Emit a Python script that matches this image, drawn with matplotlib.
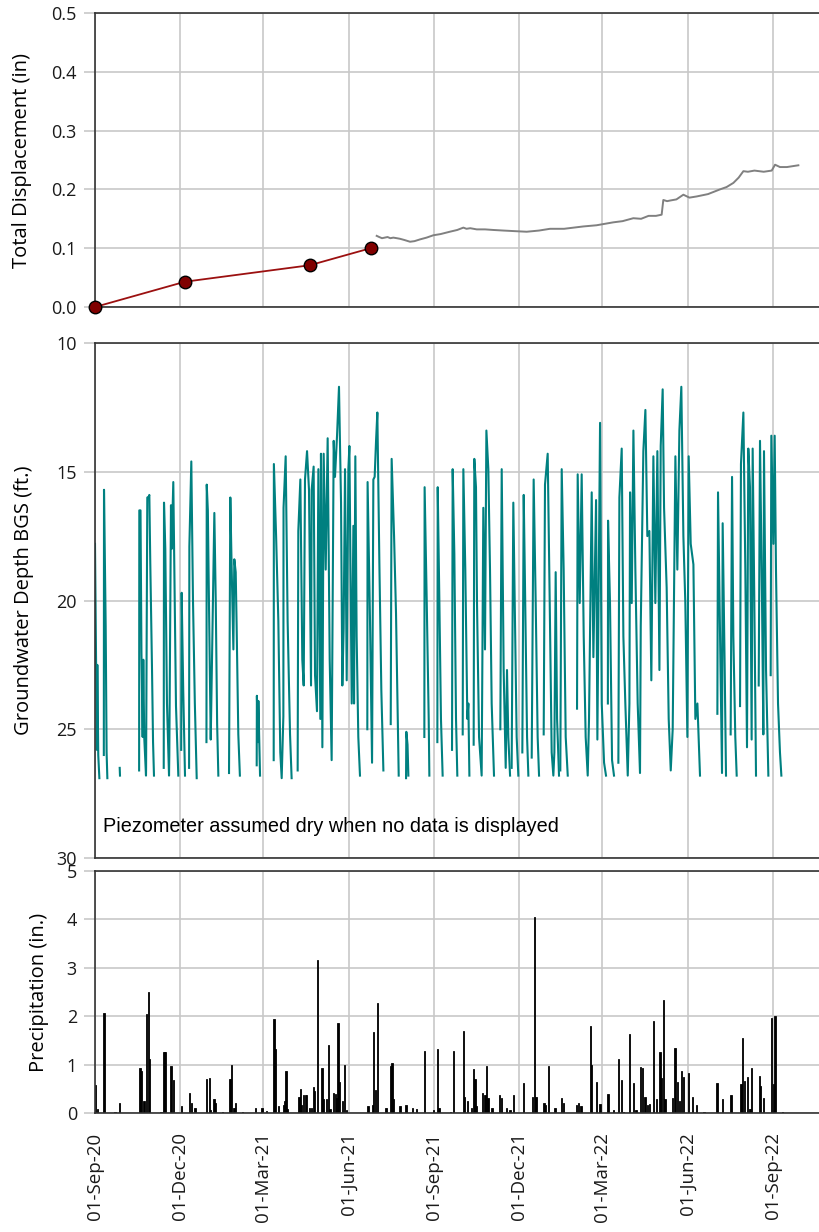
import numpy as np
import pandas as pd
import matplotlib
matplotlib.use("Agg")
import matplotlib.pyplot as plt
import matplotlib.dates as mdates

plt.rcParams['font.family'] = ['Open Sans', 'DejaVu Sans']

# all x values are days since 01-Sep-2020
START = pd.Timestamp('2020-09-01')
END_DAY = 780.6

# survey readings (inclinometer) and continuous record
survey_day = [0, 96.9, 231.2, 296.8]
survey_disp = [0.0, 0.043, 0.071, 0.100]

auto_day = [303.3, 306.0, 309.0, 312.0, 315.0, 318.0, 321.2, 325.0, 328.4, 333.0, 339.2, 344.0,
            350.0, 357.0, 364.3, 372.0, 382.0, 390.0, 396.6, 400.0, 404.0, 411.0, 420.0,
            428.9, 440.0, 452.0, 464.8, 478.0, 489.9, 505.0, 525.8, 540.0, 558.1, 568.0,
            579.6, 588.0, 596.0, 604.0, 610.1, 611.9, 616.0, 619.0, 626.0, 633.5, 640.0,
            647.8, 660.0, 672.9, 680.0, 687.3, 693.0, 698.1, 703.0, 710.0, 720.0, 728.6,
            732.2, 737.5, 745.0, 757.3]
auto_disp = [0.121, 0.119, 0.117, 0.118, 0.119, 0.117, 0.118, 0.117, 0.116, 0.114, 0.111,
             0.112, 0.115, 0.118, 0.122, 0.124, 0.128, 0.131, 0.135, 0.133, 0.134, 0.132,
             0.132, 0.131, 0.130, 0.129, 0.128, 0.130, 0.133, 0.133, 0.137, 0.139, 0.144,
             0.146, 0.151, 0.150, 0.155, 0.155, 0.157, 0.182, 0.180, 0.181, 0.183, 0.191,
             0.186, 0.188, 0.192, 0.200, 0.204, 0.211, 0.220, 0.231, 0.230, 0.232, 0.230,
             0.232, 0.242, 0.238, 0.238, 0.241]

# groundwater depth, one list per period with data (piezometer dry in between)
gw_segments = [
    [(0, 17.8), (1.5, 23.7), (2.0, 25.8), (2.5, 22.5), (3.5, 26.0), (4.7, 26.9)],
    [(9.5, 26.0), (9.7, 15.7), (11.5, 21.0), (12.5, 25.9), (13.3, 26.9)],
    [(26.6, 26.5), (26.9, 26.8)],
    [(47.5, 26.6), (47.7, 16.5), (49.0, 16.5), (50, 22.0), (51.3, 25.3), (52, 22.3), (53, 25.3),
     (54.9, 26.8), (55, 26.5), (56.3, 16.0), (57.5, 16.0), (58.5, 15.9), (59.5, 18.5),
     (61.4, 22.7), (62.5, 25.5), (63.5, 26.8)],
    [(74.0, 26.5), (74.3, 16.2), (75.7, 18.0), (77.5, 24.0), (79.7, 26.8), (80, 26.0),
     (81.8, 16.3), (82.5, 18.0), (84.3, 15.4), (85.5, 19.0), (87.2, 24.1), (88.5, 25.5),
     (89.7, 26.8)],
    [(92.8, 25.8), (93.3, 19.7), (95, 23.5), (96.9, 26.8)],
    [(101.3, 26.5), (101.6, 17.9), (103.7, 14.6), (105.5, 20.0), (107.5, 24.0), (109.5, 26.9)],
    [(120, 25.5), (120.3, 15.5), (121.5, 16.5), (122.5, 19.5), (124.6, 25.4), (125, 24.5),
     (128.5, 16.6), (130, 20.0), (131.5, 24.8), (132.8, 26.8)],
    [(144.3, 26.7), (145.7, 16.0), (147, 18.5), (149, 21.9), (150, 18.4), (151.5, 18.9),
     (152.5, 21.0), (154.3, 25.2), (156, 26.8)],
    [(174.1, 26.4), (174.3, 23.7), (175.5, 25.5), (175.9, 23.9), (177.7, 26.8)],
    [(192.4, 26.2), (192.6, 14.7), (195, 17.5), (197.4, 20.8), (199.5, 25.9), (201, 26.9),
     (202.8, 24.5), (203, 16.4), (205.3, 14.4), (207.4, 20.8), (210, 25.2), (211.7, 26.9)],
    [(218.2, 26.6), (218.9, 17.3), (221.1, 15.3), (223.2, 22.3), (224.7, 23.3), (226.1, 15.3),
     (228.3, 14.2), (230.4, 15.7), (232.6, 23.3), (233.3, 15.7), (235.4, 14.8), (236.9, 22.9),
     (239, 24.3), (240.5, 14.9), (242.6, 24.6), (243.3, 14.3), (244.8, 25.7), (246.2, 14.3),
     (248.4, 18.8), (250.5, 13.7), (252.7, 22.3), (254.8, 26.2), (257, 13.8), (258.4, 15.2),
     (260.6, 13.6), (262.7, 11.7), (264.9, 16.2), (266.3, 23.3), (267.7, 21.1), (269.2, 14.9),
     (271, 23.1), (272.8, 14.9), (273.9, 14.0), (276.4, 24.0), (278.2, 17.1), (278.9, 24.0),
     (280.3, 14.4), (281.7, 21.4), (283.5, 25.3), (285.3, 26.8)],
    [(293.2, 25.0), (293.5, 15.4), (296.1, 20.8), (298.3, 26.3), (299.7, 15.3), (301.1, 15.2),
     (302.6, 13.8), (304, 12.7), (306.2, 18.6), (308.3, 23.5), (310.5, 26.6)],
    [(318.4, 24.8), (319.4, 14.5), (322, 17.5), (324.1, 20.5), (327, 26.8)],
    [(334.9, 26.9), (335.2, 25.1), (336.5, 25.6), (337.4, 26.8)],
    [(354.6, 25.3), (354.9, 15.6), (357.1, 19.9), (359.3, 24.6), (360, 26.8)],
    [(368.6, 25.5), (369, 15.6), (370.8, 20.1), (372.5, 24.6), (374.3, 26.8)],
    [(384.4, 25.8), (385.1, 14.9), (386.9, 18.2), (388.7, 24.6), (390.1, 26.8)],
    [(395.9, 25.2), (396.6, 14.9), (398.7, 18.8), (400.9, 24.6), (402, 24.0), (403.1, 26.8)],
    [(407.7, 25.6), (408.4, 14.5), (410.2, 15.6), (411.3, 20.1), (413.5, 25.3), (416.3, 26.8),
     (418.1, 16.4), (419.9, 21.9), (421.4, 13.4), (423.5, 14.9), (425.3, 18.8), (427.1, 24.0),
     (429.6, 26.8)],
    [(436.4, 25.0), (437.9, 14.9), (440, 22.7), (442.2, 26.5), (443.6, 22.7), (445, 25.3),
     (446.9, 26.8)],
    [(448.6, 26.5), (450.4, 16.2), (452.2, 20.8), (454, 25.3), (455.8, 26.8)],
    [(460.1, 25.9), (461.6, 15.9), (463, 19.5), (465.2, 25.3), (466.6, 26.8)],
    [(470.2, 26.1), (472.3, 15.3), (474.5, 20.1), (476.6, 25.3), (478.1, 26.8)],
    [(483.1, 25.2), (484.5, 15.5), (487.4, 14.3), (489.6, 20.1), (491.7, 25.9), (493.5, 26.8),
     (494.6, 25.9), (496, 18.9), (497.5, 24.6), (499.6, 26.8)],
    [(501, 26.6), (502.5, 14.9), (504.6, 18.8), (506.8, 25.3), (509, 26.8)],
    [(519, 24.2), (519.7, 15.1), (521.9, 20.1), (524, 15.1), (526.2, 21.4), (528.3, 25.3),
     (530.5, 26.8), (531.9, 24.6), (534.8, 15.8), (536.6, 22.2), (539.5, 16.1), (540.9, 25.4),
     (543.8, 13.1), (545.6, 24.0), (548.1, 26.3), (550.2, 26.8)],
    [(552.2, 24.0), (552.4, 16.9), (554.5, 20.1), (556.7, 26.2), (558.8, 26.8)],
    [(563.5, 26.3), (564.6, 16.0), (567.1, 14.1), (568.9, 21.4), (571, 24.0), (573.6, 26.8),
     (575.4, 24.0), (576.1, 15.8), (577.9, 20.1), (579.7, 13.4), (581.8, 18.8), (584.3, 24.0),
     (586.8, 26.7), (587.6, 21.0), (590.4, 14.2), (592.6, 12.6), (594.7, 17.5), (596.9, 17.3),
     (599, 23.1), (601.2, 14.4), (603.3, 20.1), (605.5, 14.2), (607.7, 22.7), (609.1, 14.0),
     (611.2, 11.8), (612.7, 16.4), (615.5, 19.5), (617.7, 24.6), (619.9, 26.6), (622, 25.0),
     (624.9, 14.4), (627, 18.8), (629.2, 13.4), (631.3, 11.7), (633.5, 17.5), (635.6, 20.1),
     (637.8, 25.3), (639.2, 14.4), (641.4, 17.8), (644.3, 18.6), (646.4, 24.6), (648.6, 24.0),
     (651.4, 26.8)],
    [(670.1, 24.4), (670.8, 15.8), (673, 21.4), (675.1, 26.7), (675.8, 17.0), (678, 22.7),
     (679.4, 26.8)],
    [(684.4, 25.2), (685.9, 15.2), (687.3, 21.4), (689.4, 25.3), (690.9, 26.8)],
    [(694.5, 24.1), (695.5, 14.7), (698.1, 12.7), (700.2, 18.8), (702, 25.7), (703.4, 14.1),
     (705.2, 15.6), (707, 25.4), (708.1, 14.1), (709.9, 20.1), (711.7, 26.8)],
    [(714.6, 23.3), (716, 13.8), (718.2, 20.1), (719.6, 25.2), (720.3, 14.2), (722.5, 22.7),
     (725, 26.8)],
    [(727.5, 22.9), (728.2, 13.6), (730.4, 17.8), (731.8, 13.6), (733.2, 18.8), (735.4, 24.0),
     (737.5, 25.9), (739, 26.8)],
]

# daily precipitation (in.)
precip_day = [0.7, 2.9, 9.7, 21.5, 26.2, 48.5, 49.9, 52.8, 55.6, 57.4, 58.9, 71, 74.3, 75.4,
              81.8, 84.3, 93.3, 101.6, 104.1, 107.7, 120.2, 123.1, 124.5, 128.1, 129.2, 137.5,
              145.4, 146.8, 149.7, 151.5, 159, 172.6, 179.8, 184.8, 192.7, 194.2, 197.8, 202.8,
              204.6, 205.7, 207.4, 219.6, 221.4, 222.5, 224.3, 226.5, 227.9, 230.8, 233.3,
              235.1, 236.5, 239.7, 244.4, 245.8, 249.4, 251.2, 253, 256.6, 258.8, 260.2, 261.6,
              263.1, 266.7, 268.8, 271, 293.9, 299, 300, 301.8, 304, 313.3, 318.3, 319.8, 321.2,
              328.4, 334.9, 341.7, 346.3, 354.6, 364.3, 369, 370.4, 383, 385.8, 396.6, 397.7,
              400.9, 405.6, 407.7, 409.2, 410.6, 417.4, 419.9, 421.7, 423.2, 427.5, 435.4, 437.2,
              443.3, 446.8, 450.8, 461.2, 471.2, 473.4, 474.8, 483.4, 485.2, 488.1, 495.3,
              501.8, 504.3, 518.6, 520.4, 523.3, 533.7, 534.8, 540.2, 543.7, 552.4, 558.1,
              563.5, 567.1, 568.9, 575.7, 580, 582.5, 587.5, 589.7, 592.2, 594.7, 596.9, 601.5,
              604.8, 608.3, 610.1, 611.9, 613.7, 622, 624.5, 627, 629.2, 631.7, 633.5, 638.8,
              643.5, 647.8, 655.7, 669.7, 675.8, 684.8, 695.6, 697.4, 699.2, 702.7, 705.2, 707,
              715.3, 716.7, 720, 728.6, 730.4, 732.2, 740.4]
precip_in = [0.57, 0.09, 2.07, 0.02, 0.21, 0.92, 0.87, 0.24, 2.05, 2.5, 1.12, 0.02, 1.26, 1.26,
             0.97, 0.69, 0.14, 0.41, 0.21, 0.11, 0.71, 0.72, 0.07, 0.28, 0.21, 0.02,
             0.70, 1.0, 0.11, 0.21, 0.03, 0.11, 0.11, 0.04, 1.95, 1.33, 0.14, 0.16,
             0.24, 0.86, 0.09, 0.33, 0.5, 0.16, 0.38, 0.38, 0.38, 0.10, 0.10,
             0.54, 0.45, 3.17, 0.94, 0.28, 0.28, 1.41, 0.09, 0.41, 0.40, 0.30, 1.85,
             0.64, 0.25, 1.0, 0.06, 0.14, 0.17, 1.67, 0.47, 2.27, 0.1, 0.97, 1.04, 0.28,
             0.14, 0.17, 0.1, 0.09, 1.29, 0.06, 1.32, 0.1, 0.03, 1.28, 1.69, 0.34,
             0.24, 0.11, 0.9, 0.71, 0.14, 0.41, 0.37, 0.97, 0.32, 0.1, 0.38, 0.31,
             0.11, 0.06, 0.37, 0.63, 0.34, 4.04, 0.34, 0.21, 0.17, 0.97, 0.1,
             0.31, 0.21, 0.16, 0.21, 0.14, 1.79, 1.0, 0.65, 0.19, 0.4, 0.07,
             1.12, 0.69, 0.03, 1.63, 0.62, 0.07, 0.95, 0.94, 0.34, 0.16, 0.18, 1.91,
             0.28, 1.26, 0.73, 2.33, 0.28, 0.32, 1.35, 0.64, 0.25, 0.86, 0.74, 0.83,
             0.33, 0.16, 0.02, 0.63, 0.28, 0.37, 0.59, 1.54, 0.66, 0.74, 0.09, 0.92,
             0.76, 0.55, 0.32, 1.97, 0.59, 2.0, 0.03]


def to_dates(days):
    return START + pd.to_timedelta(np.asarray(days, dtype=float), unit='D')


fig = plt.figure(figsize=(8.2, 12.32), dpi=100)
W, H = 820.0, 1232.0
left, width = 95 / W, 725 / W
ax1 = fig.add_axes([left, 1 - 307 / H, width, 294 / H])
ax2 = fig.add_axes([left, 1 - 858 / H, width, 515 / H])
ax3 = fig.add_axes([left, 1 - 1113 / H, width, 242 / H])

grid_kw = dict(color='#c8c8c8', linewidth=1.2)
for ax in (ax1, ax2, ax3):
    ax.set_xlim(to_dates([0])[0], to_dates([END_DAY])[0])
    ax.xaxis.set_major_locator(mdates.MonthLocator(bymonth=[3, 6, 9, 12], bymonthday=1))
    ax.xaxis.set_major_formatter(mdates.DateFormatter('%d-%b-%y'))
    ax.grid(True, **grid_kw)
    ax.set_axisbelow(True)
    ax.spines['right'].set_visible(False)
    for s in ('left', 'top', 'bottom'):
        ax.spines[s].set_color('#333333')
        ax.spines[s].set_linewidth(1.2)
    ax.tick_params(axis='y', length=8, width=1.2, color='#c8c8c8', labelsize=13, pad=5,
                   labelcolor='#1a1a1a')
    ax.tick_params(axis='x', length=0, labelsize=13.5, labelcolor='#1a1a1a')

# total displacement
ax1.plot(to_dates(auto_day), auto_disp, color='#808080', linewidth=1.4)
ax1.plot(to_dates(survey_day), survey_disp, color='#9b1010', linewidth=1.3, marker='o',
         markersize=9, markerfacecolor='#800000', markeredgecolor='black', markeredgewidth=1,
         clip_on=False, zorder=5)
ax1.set_ylim(0, 0.5)
ax1.set_yticks(np.arange(0, 0.51, 0.1))
ax1.yaxis.set_major_formatter(matplotlib.ticker.FormatStrFormatter('%.1f'))
ax1.set_ylabel('Total Displacement (in)', fontsize=14.5)
ax1.yaxis.set_label_coords(-0.087, 0.5)
ax1.tick_params(axis='x', labelbottom=False)

# groundwater
for seg in gw_segments:
    d, v = zip(*seg)
    ax2.plot(to_dates(d), v, color='#008080', linewidth=1.5)
ax2.set_ylim(30, 10)
ax2.set_yticks([10, 15, 20, 25, 30])
ax2.set_ylabel('Groundwater Depth BGS (ft.)', fontsize=14.5)
ax2.yaxis.set_label_coords(-0.084, 0.5)
ax2.tick_params(axis='x', labelbottom=False)
ax2.text(0.011, 0.062, 'Piezometer assumed dry when no data is displayed',
         transform=ax2.transAxes, fontsize=14.3, family='Liberation Sans', va='center',
         ha='left')

# precipitation
ax3.bar(to_dates(precip_day), precip_in, width=1.2, color='black', edgecolor='black',
        linewidth=0.6)
ax3.set_ylim(0, 5)
ax3.set_yticks([0, 1, 2, 3, 4, 5])
ax3.set_ylabel('Precipitation (in.)', fontsize=14.5)
ax3.yaxis.set_label_coords(-0.063, 0.5)
ax3.tick_params(axis='x', rotation=90, pad=14)
for lab in ax3.get_xticklabels():
    lab.set_va('top')

fig.savefig('out.png', dpi=100)
